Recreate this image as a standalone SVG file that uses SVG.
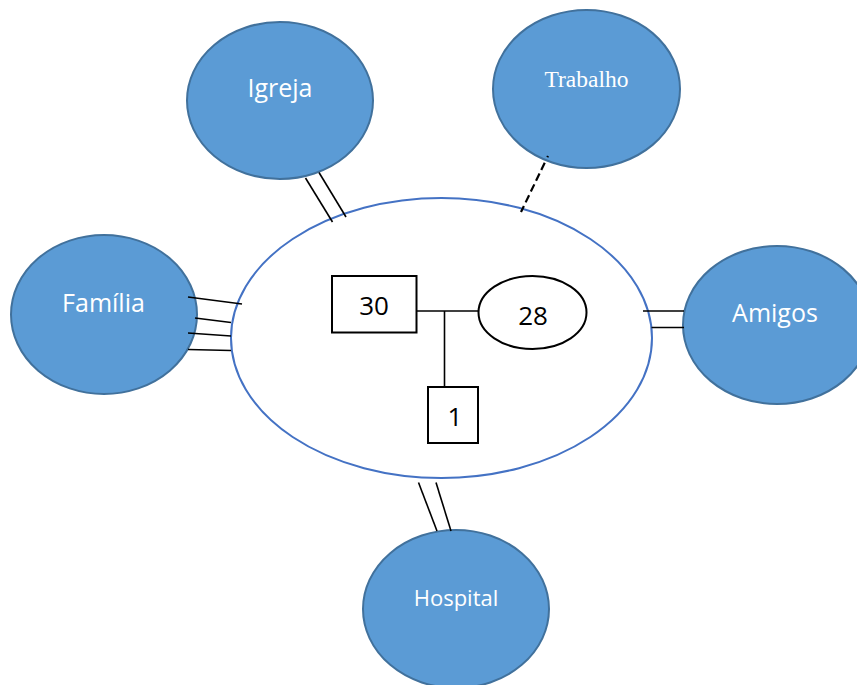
<svg xmlns="http://www.w3.org/2000/svg" width="857" height="685" viewBox="0 0 857 685">
<style>
.bub{fill:#5B9BD5;stroke:#41719C;stroke-width:2}
.lbl{fill:#ffffff;font-family:"Open Sans","Noto Sans","Liberation Sans",sans-serif;text-anchor:middle}
.ser{fill:#ffffff;font-family:"Liberation Serif","DejaVu Serif",serif;text-anchor:middle}
.num{fill:#000000;font-family:"Open Sans","Noto Sans","Liberation Sans",sans-serif;font-size:26px;text-anchor:middle}
.ln{stroke:#000000;stroke-width:1.6;fill:none}
.sym{fill:#ffffff;stroke:#000000;stroke-width:2}
</style>
<rect width="857" height="685" fill="#ffffff"/>
<g id="igreja"><ellipse class="bub" cx="280" cy="100.5" rx="93" ry="78.5"/><text class="lbl" x="280" y="97" font-size="25">Igreja</text></g>
<g id="trabalho"><ellipse class="bub" cx="586.5" cy="89" rx="93.5" ry="79"/><text class="ser" x="586.5" y="87" font-size="23.5">Trabalho</text></g>
<g id="familia"><ellipse class="bub" cx="104" cy="314.5" rx="93" ry="79.5"/><text class="lbl" x="103.5" y="311.5" font-size="25">Família</text></g>
<g id="amigos"><ellipse class="bub" cx="777" cy="325" rx="94" ry="79"/><text class="lbl" x="775" y="322" font-size="25">Amigos</text></g>
<g id="hospital"><ellipse class="bub" cx="456" cy="609" rx="93" ry="79"/><text class="lbl" x="456" y="605.5" font-size="22">Hospital</text></g>
<g id="nucleo">
<ellipse cx="441.5" cy="338" rx="210.5" ry="140" fill="#ffffff" stroke="#4472C4" stroke-width="2"/>
</g>
<g id="genograma-lines">
<line class="ln" x1="417" y1="311" x2="479" y2="311"/>
<line class="ln" x1="444.5" y1="311" x2="444.5" y2="387"/>
</g>
<g id="pai"><rect class="sym" x="332" y="276" width="84.5" height="56.5"/><text class="num" x="374" y="315">30</text></g>
<g id="mae"><ellipse class="sym" cx="532.5" cy="312.5" rx="54" ry="36.5"/><text class="num" x="533" y="325">28</text></g>
<g id="filho"><rect class="sym" x="428" y="387" width="50" height="56"/><text class="num" x="455" y="425.5">1</text></g>
<g id="connectors">
<line class="ln" x1="188" y1="297" x2="242" y2="304"/>
<line class="ln" x1="195" y1="318" x2="231" y2="322.5"/>
<line class="ln" x1="188" y1="333" x2="231" y2="336"/>
<line class="ln" x1="188" y1="349.5" x2="231" y2="350.5"/>
<line class="ln" x1="305.5" y1="178" x2="332.5" y2="222"/>
<line class="ln" x1="319" y1="172.5" x2="346" y2="217"/>
<line class="ln" x1="643" y1="311" x2="684" y2="311"/>
<line class="ln" x1="651.5" y1="327.5" x2="684" y2="327.5"/>
<line class="ln" x1="418.5" y1="482.5" x2="437" y2="531"/>
<line class="ln" x1="436" y1="482.5" x2="451" y2="531"/>
<line stroke="#000000" stroke-width="2.2" fill="none" x1="548" y1="156" x2="521" y2="212" stroke-dasharray="1.5 6 8 4 8 4 8 4 8 4 8 4 8 4"/>
</g>
</svg>
